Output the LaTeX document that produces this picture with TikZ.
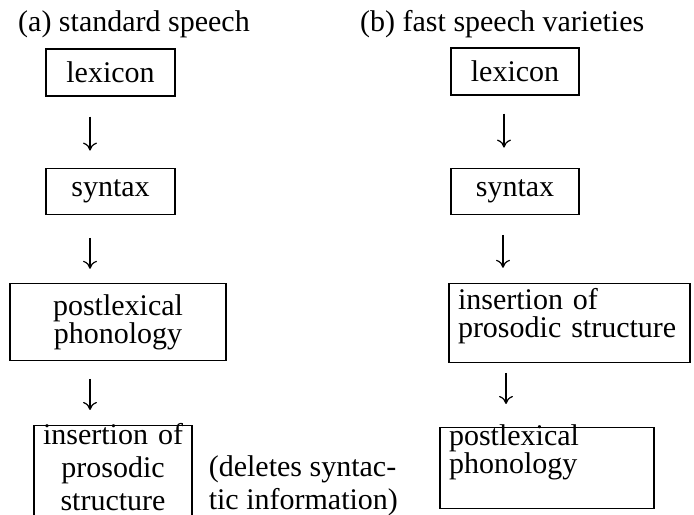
\documentclass[tikz,border=0pt]{standalone}
\usepackage{fontspec}
\setmainfont{Liberation Serif}
\usetikzlibrary{arrows.meta,positioning}

\begin{document}
\begin{tikzpicture}[
  x=1bp, y=1bp,
  tight/.style={font=\fontsize{30bp}{28bp}\selectfont},
  loose/.style={font=\fontsize{30bp}{33bp}\selectfont},
  box/.style={rectangle, draw, line width=1.2bp, inner sep=0pt, align=center, tight},
  title/.style={anchor=base west, inner sep=0pt, tight},
  arr/.style={-{Computer Modern Rightarrow[length=8bp,width=14bp]}, line width=1.2bp, shorten <=20bp, shorten >=17bp}
]
\path[use as bounding box, clip] (0,0) rectangle (694,515);

\node[title] (ta) at (18,483)  {(a) standard speech};
\node[title] (tb) at (360,483) {(b) fast speech varieties};

% (a) standard speech
\node[box, minimum width=129bp, minimum height=47bp] (lexa) at (110.5,442.5) {lexicon};
\node[box, minimum width=129bp, minimum height=46bp, below=71bp of lexa] (syna) {syntax};
\node[box, text width=216bp, minimum height=77bp, below=68bp of syna, xshift=7.5bp] (posta) {postlexical\\phonology};
\node[box, loose, text width=158bp, text height=19bp, text depth=100bp, below=64bp of posta, xshift=-5bp] (insa) {insertion of\\prosodic\\structure};
\node[loose, align=left, inner sep=0pt, right=16bp of insa, yshift=-1bp] (note) {(deletes syntac-\\tic information)};

% (b) fast speech varieties
\node[box, minimum width=128bp, minimum height=47bp] (lexb) at (515,443.5) {lexicon};
\node[box, minimum width=128bp, minimum height=46bp, below=72bp of lexb] (synb) {syntax};
\node[box, text width=223bp, inner xsep=9bp, align=left, text height=26bp, text depth=53bp, below=68bp of synb, xshift=54.5bp] (insb) {insertion of\\prosodic structure};
\node[box, text width=196bp, inner xsep=9bp, align=left, text height=18bp, text depth=63bp, below=64bp of insb, xshift=-22.5bp] (postb) {postlexical\\phonology};

\draw[arr] ([xshift=-20.5bp]lexa.south) -- ([xshift=-20.5bp]lexa.south |- syna.north);
\draw[arr, shorten <=23bp, shorten >=14bp] ([xshift=-20.5bp]syna.south) -- ([xshift=-20.5bp]syna.south |- posta.north);
\draw[arr, shorten <=18bp, shorten >=15bp] ([xshift=-28bp]posta.south) -- ([xshift=-28bp]posta.south |- insa.north);
\draw[arr, shorten <=18bp, shorten >=20bp] ([xshift=-11bp]lexb.south) -- ([xshift=-11bp]lexb.south |- synb.north);
\draw[arr, shorten <=20bp, shorten >=15bp] ([xshift=-12bp]synb.south) -- ([xshift=-12bp]synb.south |- insb.north);
\draw[arr, shorten <=10bp, shorten >=23bp] ([xshift=-63.5bp]insb.south) -- ([xshift=-63.5bp]insb.south |- postb.north);
\end{tikzpicture}
\end{document}
